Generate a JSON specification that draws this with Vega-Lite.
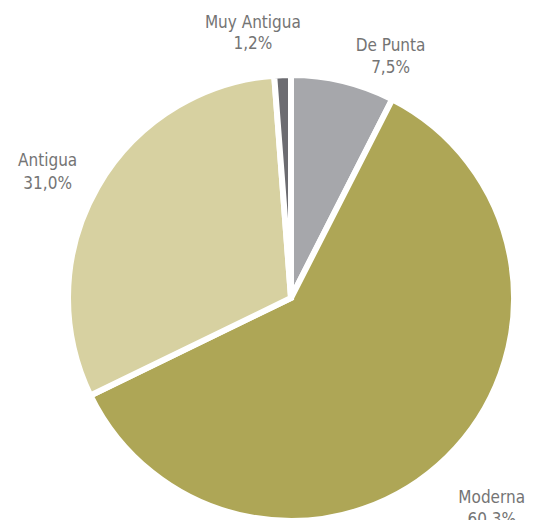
{
  "$schema": "https://vega.github.io/schema/vega-lite/v6.json",
  "autosize": "none",
  "width": 506,
  "height": 444,
  "padding": {"left": 38, "top": 76, "right": 0, "bottom": 0},
  "background": "white",
  "view": {"stroke": null},
  "data": {
    "values": [
      {"cat": "De Punta", "pct": 7.5, "ord": 1, "label": "De Punta\n7,5%"},
      {"cat": "Moderna", "pct": 60.3, "ord": 2, "label": "Moderna\n60,3%"},
      {"cat": "Antigua", "pct": 31.0, "ord": 3, "label": "Antigua\n31,0%"},
      {"cat": "Muy Antigua", "pct": 1.2, "ord": 4, "label": "Muy Antigua\n1,2%"}
    ]
  },
  "encoding": {
    "theta": {"field": "pct", "type": "quantitative", "stack": true},
    "order": {"field": "ord", "type": "quantitative"}
  },
  "layer": [
    {
      "mark": {"type": "arc", "outerRadius": 223, "stroke": "white", "strokeWidth": 6, "strokeJoin": "miter"},
      "encoding": {
        "color": {
          "field": "cat",
          "type": "nominal",
          "scale": {
            "domain": ["De Punta", "Moderna", "Antigua", "Muy Antigua"],
            "range": ["#a6a7ab", "#aea656", "#d7d1a1", "#6c6c71"]
          },
          "legend": null
        }
      }
    },
    {
      "mark": {"type": "text", "radius": 268, "dx": -28, "dy": -7, "lineBreak": "\n", "font": "DejaVu Sans Condensed, DejaVu Sans", "fontSize": 17, "lineHeight": 21, "fill": "#747474", "baseline": "middle", "align": "center"},
      "encoding": {"text": {"condition": {"test": "datum.cat === 'Muy Antigua'", "field": "label"}, "value": ""}}
    },
    {
      "mark": {"type": "text", "radius": 268, "dx": 37, "dy": 9, "lineBreak": "\n", "font": "DejaVu Sans Condensed, DejaVu Sans", "fontSize": 17, "lineHeight": 22, "fill": "#747474", "baseline": "middle", "align": "center"},
      "encoding": {"text": {"condition": {"test": "datum.cat === 'De Punta'", "field": "label"}, "value": ""}}
    },
    {
      "mark": {"type": "text", "radius": 268, "dx": -11, "dy": -3, "lineBreak": "\n", "font": "DejaVu Sans Condensed, DejaVu Sans", "fontSize": 17, "lineHeight": 23, "fill": "#747474", "baseline": "middle", "align": "center"},
      "encoding": {"text": {"condition": {"test": "datum.cat === 'Antigua'", "field": "label"}, "value": ""}}
    },
    {
      "mark": {"type": "text", "radius": 268, "dx": 13, "dy": 9, "lineBreak": "\n", "font": "DejaVu Sans Condensed, DejaVu Sans", "fontSize": 17, "lineHeight": 22, "fill": "#747474", "baseline": "middle", "align": "center"},
      "encoding": {"text": {"condition": {"test": "datum.cat === 'Moderna'", "field": "label"}, "value": ""}}
    }
  ]
}
